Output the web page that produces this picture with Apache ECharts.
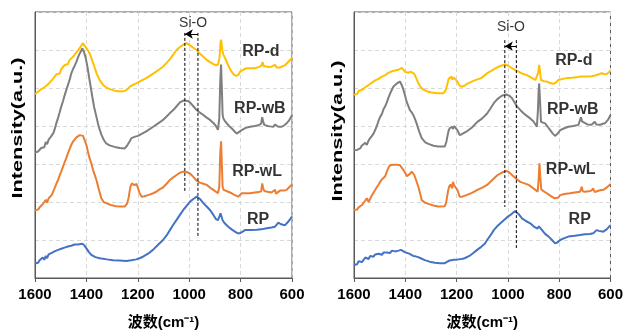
<!DOCTYPE html>
<html>
<head>
<meta charset="utf-8">
<script src="https://cdn.jsdelivr.net/npm/echarts@6/dist/echarts.min.js"></script>
<style>
  html, body { margin: 0; padding: 0; background: #fff; }
  #chart { width: 626px; height: 336px; }
</style>
</head>
<body>
<div id="chart"></div>
<script>
// wavenumber ticks (cm-1), axis runs 1600 -> 600
const xTicks = [1600, 1400, 1200, 1000, 800, 600]
const sampleNames = ['RP-d', 'RP-wB', 'RP-wL', 'RP']
const sampleColors = ['#FFC000', '#7F7F7F', '#ED7D31', '#4472C4']

// left panel spectra [wavenumber, offset intensity]
const leftRPd = [[1600,4.84],[1592,4.88],[1586,4.86],[1580,4.95],[1575,4.92],[1568,5.00],[1562,4.97],[1556,5.06],[1550,5.02],[1543,5.14],[1537,5.10],[1530,5.24],[1524,5.20],[1517,5.36],[1510,5.40],[1504,5.38],[1498,5.50],[1491,5.48],[1485,5.60],[1478,5.65],[1472,5.63],[1465,5.74],[1459,5.72],[1452,5.82],[1446,5.86],[1439,5.94],[1433,5.98],[1426,6.05],[1420,6.10],[1414,6.18],[1408,6.16],[1400,6.05],[1393,5.98],[1387,5.90],[1380,5.78],[1374,5.66],[1368,5.54],[1360,5.38],[1348,5.20],[1335,5.08],[1320,5.00],[1309,4.97],[1290,4.93],[1270,4.91],[1251,4.92],[1240,4.97],[1232,5.03],[1220,5.08],[1206,5.12],[1190,5.18],[1167,5.26],[1140,5.38],[1114,5.50],[1102,5.56],[1088,5.66],[1075,5.76],[1062,5.88],[1049,6.00],[1036,6.08],[1023,6.14],[1010,6.18],[997,6.12],[984,6.06],[971,6.00],[958,5.90],[945,5.82],[932,5.74],[919,5.68],[906,5.63],[896,5.60],[888,5.62],[882,5.80],[878,6.20],[876,6.27],[873,6.10],[870,5.95],[867,5.88],[860,5.78],[854,5.69],[845,5.55],[835,5.43],[826,5.35],[818,5.32],[809,5.34],[802,5.43],[790,5.48],[777,5.52],[763,5.52],[745,5.52],[730,5.55],[720,5.58],[714,5.68],[710,5.58],[705,5.56],[690,5.55],[680,5.56],[673,5.56],[666,5.61],[660,5.54],[647,5.54],[640,5.58],[627,5.60],[620,5.62],[614,5.69],[607,5.74],[600,5.79]]
const leftRPwB = [[1600,3.30],[1594,3.34],[1588,3.33],[1582,3.38],[1576,3.42],[1570,3.46],[1564,3.44],[1558,3.58],[1553,3.52],[1547,3.64],[1540,3.70],[1534,3.74],[1528,3.82],[1522,3.95],[1517,4.07],[1510,4.22],[1504,4.36],[1498,4.51],[1491,4.65],[1485,4.80],[1478,4.95],[1472,5.08],[1465,5.22],[1459,5.38],[1452,5.50],[1446,5.58],[1439,5.69],[1433,5.80],[1426,5.91],[1420,5.98],[1416,6.04],[1410,5.96],[1403,5.80],[1396,5.56],[1390,5.30],[1383,5.02],[1377,4.77],[1370,4.50],[1361,4.24],[1352,3.98],[1342,3.78],[1332,3.63],[1323,3.54],[1310,3.49],[1290,3.45],[1270,3.42],[1251,3.41],[1242,3.48],[1232,3.59],[1225,3.68],[1219,3.72],[1210,3.72],[1199,3.74],[1185,3.79],[1167,3.86],[1140,3.98],[1114,4.10],[1102,4.16],[1088,4.25],[1075,4.34],[1062,4.42],[1049,4.52],[1036,4.62],[1023,4.67],[1016,4.68],[1005,4.66],[997,4.62],[984,4.52],[971,4.42],[958,4.35],[945,4.29],[932,4.22],[919,4.16],[906,4.08],[896,4.00],[888,3.90],[883,4.20],[879,5.20],[876,5.62],[873,5.00],[870,4.30],[867,4.20],[860,4.12],[854,4.07],[845,4.00],[835,3.94],[825,3.87],[815,3.80],[808,3.82],[796,3.89],[780,3.95],[763,3.98],[745,4.00],[730,4.02],[720,4.06],[716,4.23],[712,4.12],[708,4.03],[695,4.00],[685,3.99],[673,3.98],[666,4.04],[660,4.05],[653,3.98],[640,3.98],[630,4.02],[621,4.07],[612,4.14],[600,4.28]]
const leftRPwL = [[1600,1.78],[1594,1.82],[1588,1.80],[1582,1.86],[1576,1.88],[1570,1.94],[1564,1.90],[1558,2.06],[1553,1.98],[1547,2.10],[1541,2.05],[1535,2.18],[1530,2.23],[1524,2.36],[1517,2.48],[1510,2.58],[1504,2.70],[1498,2.80],[1491,2.93],[1485,3.04],[1478,3.16],[1472,3.28],[1465,3.40],[1459,3.50],[1452,3.59],[1446,3.64],[1439,3.70],[1433,3.72],[1426,3.76],[1420,3.81],[1413,3.74],[1407,3.63],[1400,3.50],[1394,3.32],[1388,3.16],[1381,3.02],[1374,2.84],[1368,2.72],[1361,2.58],[1352,2.34],[1342,2.10],[1333,2.00],[1323,1.97],[1305,1.92],[1284,1.89],[1265,1.88],[1251,1.88],[1242,1.96],[1236,2.10],[1229,2.40],[1223,2.49],[1219,2.44],[1216,2.53],[1213,2.44],[1210,2.40],[1205,2.48],[1202,2.45],[1197,2.32],[1193,2.23],[1185,2.14],[1175,2.15],[1160,2.18],[1140,2.23],[1128,2.27],[1114,2.34],[1102,2.38],[1088,2.48],[1075,2.58],[1062,2.65],[1049,2.71],[1036,2.77],[1023,2.80],[1010,2.79],[997,2.75],[984,2.66],[971,2.56],[958,2.51],[945,2.48],[932,2.45],[919,2.38],[906,2.32],[896,2.27],[888,2.23],[883,2.40],[879,3.30],[876,3.60],[873,3.00],[870,2.40],[866,2.32],[861,2.32],[848,2.27],[835,2.23],[822,2.18],[809,2.14],[802,2.18],[796,2.23],[780,2.23],[763,2.23],[745,2.25],[730,2.26],[720,2.28],[716,2.49],[712,2.36],[708,2.29],[695,2.27],[680,2.25],[673,2.25],[666,2.32],[662,2.22],[655,2.24],[647,2.30],[640,2.26],[630,2.30],[621,2.32],[612,2.38],[600,2.46]]
const leftRP = [[1600,0.38],[1594,0.42],[1588,0.40],[1582,0.47],[1576,0.45],[1570,0.54],[1564,0.48],[1558,0.58],[1553,0.52],[1547,0.62],[1541,0.58],[1535,0.66],[1530,0.63],[1524,0.70],[1517,0.68],[1510,0.74],[1504,0.71],[1498,0.77],[1491,0.74],[1485,0.80],[1478,0.78],[1472,0.83],[1465,0.80],[1459,0.85],[1452,0.84],[1446,0.88],[1439,0.86],[1433,0.88],[1426,0.87],[1416,0.90],[1408,0.86],[1400,0.78],[1390,0.68],[1381,0.61],[1365,0.55],[1348,0.52],[1320,0.49],[1296,0.47],[1270,0.46],[1245,0.45],[1225,0.47],[1206,0.49],[1193,0.52],[1180,0.56],[1160,0.64],[1141,0.74],[1120,0.88],[1102,1.00],[1088,1.12],[1075,1.26],[1062,1.40],[1049,1.53],[1036,1.66],[1023,1.79],[1010,1.90],[997,2.01],[984,2.08],[971,2.14],[965,2.13],[958,2.08],[945,1.97],[932,1.88],[919,1.79],[906,1.66],[896,1.55],[888,1.52],[883,1.57],[878,1.70],[874,1.66],[870,1.52],[862,1.44],[848,1.35],[835,1.28],[822,1.22],[812,1.18],[802,1.18],[792,1.22],[783,1.26],[760,1.26],[737,1.27],[720,1.28],[698,1.31],[680,1.33],[666,1.35],[660,1.40],[653,1.46],[645,1.42],[635,1.40],[627,1.39],[615,1.48],[608,1.54],[600,1.62]]

// right panel spectra
const rightRPd = [[1600,4.82],[1594,4.86],[1588,4.84],[1582,4.92],[1576,4.88],[1569,4.95],[1563,4.92],[1556,5.02],[1550,4.98],[1543,5.08],[1537,5.05],[1530,5.14],[1524,5.10],[1517,5.20],[1510,5.16],[1504,5.24],[1498,5.22],[1491,5.30],[1485,5.26],[1478,5.34],[1472,5.32],[1466,5.40],[1459,5.37],[1452,5.44],[1446,5.40],[1440,5.46],[1433,5.44],[1426,5.48],[1420,5.50],[1414,5.53],[1407,5.48],[1400,5.42],[1395,5.38],[1388,5.40],[1380,5.43],[1373,5.44],[1366,5.38],[1360,5.30],[1350,5.14],[1340,5.02],[1330,4.96],[1315,4.91],[1298,4.88],[1275,4.86],[1252,4.86],[1244,4.92],[1238,5.05],[1231,5.24],[1226,5.28],[1220,5.30],[1216,5.22],[1212,5.28],[1205,5.26],[1198,5.18],[1190,5.08],[1181,5.03],[1170,5.06],[1156,5.12],[1130,5.20],[1104,5.26],[1081,5.39],[1060,5.47],[1048,5.52],[1030,5.58],[1010,5.62],[997,5.58],[984,5.52],[971,5.47],[958,5.43],[945,5.38],[926,5.34],[910,5.28],[893,5.21],[887,5.23],[882,5.40],[878,5.61],[875,5.45],[871,5.21],[860,5.18],[848,5.17],[835,5.13],[822,5.11],[812,5.15],[803,5.21],[785,5.24],[771,5.26],[750,5.27],[732,5.28],[718,5.30],[712,5.34],[706,5.30],[693,5.30],[675,5.31],[660,5.33],[654,5.32],[645,5.36],[635,5.39],[625,5.37],[616,5.36],[608,5.40],[600,5.46]]
const rightRPwB = [[1600,3.36],[1594,3.38],[1588,3.37],[1582,3.42],[1576,3.41],[1570,3.48],[1563,3.44],[1556,3.56],[1550,3.50],[1543,3.62],[1537,3.68],[1530,3.74],[1524,3.80],[1517,3.90],[1510,4.02],[1504,4.14],[1498,4.24],[1491,4.32],[1485,4.44],[1479,4.51],[1472,4.62],[1466,4.74],[1459,4.86],[1452,4.96],[1446,5.04],[1440,5.08],[1433,5.12],[1426,5.15],[1421,5.17],[1414,5.08],[1407,4.95],[1400,4.78],[1395,4.64],[1388,4.52],[1382,4.42],[1375,4.36],[1369,4.29],[1362,4.18],[1356,4.07],[1346,3.86],[1336,3.68],[1322,3.57],[1310,3.53],[1290,3.48],[1272,3.46],[1246,3.46],[1240,3.58],[1236,3.72],[1231,3.88],[1227,3.94],[1222,3.96],[1218,3.98],[1214,3.92],[1210,4.00],[1207,3.98],[1197,3.89],[1188,3.76],[1178,3.79],[1162,3.85],[1140,3.96],[1119,4.11],[1100,4.20],[1081,4.33],[1068,4.46],[1055,4.60],[1042,4.70],[1029,4.77],[1018,4.81],[1006,4.83],[995,4.80],[984,4.73],[974,4.62],[964,4.51],[950,4.41],[938,4.33],[925,4.26],[913,4.20],[900,4.12],[893,4.07],[887,3.98],[883,4.40],[880,4.95],[878,5.12],[875,4.70],[871,4.11],[863,4.09],[855,4.07],[845,3.98],[835,3.89],[825,3.80],[816,3.74],[806,3.80],[796,3.89],[780,3.94],[764,3.98],[745,4.00],[725,4.03],[719,4.06],[715,4.23],[711,4.12],[709,4.07],[690,4.04],[674,4.03],[667,4.08],[661,4.11],[655,4.04],[641,4.03],[630,4.06],[622,4.07],[610,4.16],[600,4.29]]
const rightRPwL = [[1600,1.79],[1594,1.82],[1588,1.80],[1582,1.86],[1576,1.88],[1569,1.92],[1563,1.90],[1556,2.04],[1550,2.10],[1543,2.00],[1537,2.02],[1530,2.18],[1524,2.22],[1517,2.32],[1510,2.40],[1504,2.46],[1498,2.53],[1491,2.60],[1485,2.62],[1479,2.67],[1472,2.80],[1466,2.90],[1459,2.97],[1452,3.00],[1446,2.98],[1440,3.02],[1433,2.98],[1426,3.02],[1421,2.97],[1414,2.92],[1407,2.84],[1400,2.76],[1394,2.68],[1388,2.67],[1382,2.74],[1375,2.80],[1370,2.76],[1365,2.71],[1357,2.56],[1349,2.40],[1342,2.22],[1336,2.05],[1323,1.98],[1310,1.95],[1290,1.91],[1272,1.88],[1246,1.89],[1241,1.98],[1237,2.14],[1233,2.30],[1229,2.40],[1224,2.46],[1220,2.45],[1217,2.36],[1214,2.53],[1210,2.44],[1207,2.40],[1197,2.32],[1188,2.14],[1178,2.14],[1162,2.18],[1140,2.24],[1119,2.32],[1100,2.38],[1081,2.45],[1068,2.53],[1055,2.62],[1042,2.70],[1029,2.75],[1018,2.79],[1006,2.82],[995,2.78],[984,2.71],[977,2.67],[965,2.60],[952,2.53],[935,2.49],[919,2.45],[905,2.38],[893,2.32],[884,2.27],[880,2.60],[877,3.02],[874,2.70],[870,2.33],[860,2.28],[848,2.23],[838,2.18],[829,2.14],[820,2.10],[813,2.05],[805,2.11],[796,2.18],[780,2.21],[758,2.23],[740,2.25],[719,2.27],[712,2.40],[708,2.28],[700,2.27],[685,2.28],[674,2.30],[668,2.36],[661,2.26],[650,2.29],[640,2.31],[628,2.32],[615,2.38],[608,2.42],[600,2.47]]
const rightRP = [[1600,0.34],[1594,0.38],[1588,0.36],[1582,0.44],[1576,0.47],[1569,0.42],[1563,0.42],[1556,0.54],[1550,0.56],[1543,0.50],[1537,0.58],[1530,0.54],[1524,0.56],[1517,0.62],[1510,0.58],[1504,0.64],[1498,0.65],[1491,0.61],[1485,0.67],[1479,0.64],[1472,0.67],[1466,0.70],[1459,0.66],[1452,0.72],[1446,0.72],[1440,0.70],[1433,0.74],[1426,0.72],[1417,0.74],[1410,0.72],[1402,0.68],[1395,0.67],[1385,0.64],[1378,0.62],[1369,0.58],[1360,0.57],[1350,0.55],[1340,0.52],[1324,0.47],[1305,0.43],[1285,0.40],[1265,0.39],[1246,0.39],[1236,0.43],[1227,0.46],[1210,0.48],[1194,0.49],[1180,0.50],[1169,0.52],[1150,0.58],[1136,0.65],[1120,0.74],[1104,0.82],[1090,0.90],[1081,1.00],[1068,1.12],[1055,1.26],[1042,1.36],[1029,1.44],[1016,1.52],[1003,1.60],[990,1.66],[980,1.72],[971,1.76],[965,1.74],[958,1.68],[945,1.57],[930,1.50],[913,1.44],[900,1.36],[893,1.31],[885,1.30],[879,1.36],[876,1.40],[873,1.34],[867,1.26],[855,1.16],[841,1.09],[828,1.00],[816,0.91],[806,0.94],[796,1.00],[780,1.05],[764,1.09],[740,1.11],[719,1.13],[700,1.15],[680,1.16],[667,1.18],[654,1.26],[645,1.24],[638,1.21],[628,1.22],[615,1.28],[608,1.33],[600,1.39]]

// sample label anchors, Si-O guide lines [wavenumber, yTop, yBottom], arrow [xFrom, xTo, y]
const leftLabelPos = [[721,5.95],[725,4.47],[736,2.79],[732,1.53]]
const rightLabelPos = [[743,5.71],[747,4.42],[755,2.84],[720,1.53]]
const leftGuides = [[1017,6.45,2.24],[966,6.45,1.05]]
const rightGuides = [[1012,6.26,1.87],[967,6.26,0.79]]
const leftArrow = [966,1017,6.42]
const rightArrow = [967,1012,6.1]
const leftSiO = [985,6.71]
const rightSiO = [988,6.6]

const FONT = "'Liberation Sans', Arial, 'Noto Sans CJK SC', sans-serif"
const AXIS_COLOR = '#595959'

const chart = echarts.init(document.getElementById('chart'), null, { renderer: 'canvas' })

function xAxisFor(gridIndex) {
  return {
    type: 'value', gridIndex, min: 600, max: 1600, interval: 200, inverse: true,
    name: '波数(cm⁻¹)', nameLocation: 'middle', nameGap: 37,
    nameTextStyle: { fontFamily: FONT, fontWeight: 'bold', fontSize: 15, color: '#000' },
    axisLine: { show: true, lineStyle: { color: AXIS_COLOR, width: 1 } },
    axisTick: { show: true, length: 4, lineStyle: { color: AXIS_COLOR } },
    axisLabel: {
      fontFamily: FONT, fontWeight: 'bold', fontSize: 15, color: '#000', margin: 9,
      formatter: v => String(xTicks.find(t => t === v) ?? v)
    },
    splitLine: { show: true, lineStyle: { color: '#D9D9D9', type: [4, 3], width: 1 } }
  }
}

function yAxisFor(gridIndex) {
  return {
    type: 'value', gridIndex, min: 0, max: 7, interval: 1,
    axisLine: { show: true, lineStyle: { color: AXIS_COLOR, width: 1 } },
    axisTick: { show: false },
    axisLabel: { show: false },
    splitLine: { show: true, lineStyle: { color: '#D9D9D9', type: [4, 3], width: 1 } }
  }
}

// y title is drawn stretched along its length, as in the source figure
function yTitle(x, y) {
  return {
    type: 'text', x, y, rotation: Math.PI / 2, scaleX: 1.55, scaleY: 1,
    style: {
      text: 'Intensity(a.u.)', fontFamily: FONT, fontWeight: 'bold', fontSize: 14,
      fill: '#000', align: 'center', verticalAlign: 'middle'
    }
  }
}

function panelSeries(idx, spectra, labelPos, guides, arrow, siO) {
  const out = []
  spectra.forEach((d, i) => {
    out.push({
      type: 'line', xAxisIndex: idx, yAxisIndex: idx, data: d,
      showSymbol: false, symbol: 'none', smooth: false,
      lineStyle: { color: sampleColors[i], width: 2 }, z: 3
    })
  })
  guides.forEach(g => {
    out.push({
      type: 'line', xAxisIndex: idx, yAxisIndex: idx,
      data: [[g[0], g[1]], [g[0], g[2]]], symbol: 'none',
      lineStyle: { color: '#000', width: 1, type: [3, 2] }, z: 4
    })
  })
  out.push({
    type: 'line', xAxisIndex: idx, yAxisIndex: idx, data: [], symbol: 'none',
    markLine: {
      silent: true, symbol: ['none', 'arrow'], symbolSize: [7, 8],
      label: { show: false },
      lineStyle: { color: '#000', width: 1, type: 'solid' },
      data: [[{ coord: [arrow[0], arrow[2]] }, { coord: [arrow[1], arrow[2]] }]]
    }
  })
  out.push({
    type: 'scatter', xAxisIndex: idx, yAxisIndex: idx, symbolSize: 0, z: 5,
    data: labelPos.map((p, i) => ({ value: p, name: sampleNames[i] })),
    label: {
      show: true, position: 'inside', formatter: p => p.name,
      fontFamily: FONT, fontWeight: 'bold', fontSize: 16, color: '#000'
    }
  })
  out.push({
    type: 'scatter', xAxisIndex: idx, yAxisIndex: idx, symbolSize: 0, z: 5,
    data: [{ value: siO, name: 'Si-O' }],
    label: {
      show: true, position: 'inside', formatter: p => p.name,
      fontFamily: FONT, fontSize: 14, color: '#000'
    }
  })
  return out
}

const gridBox = { show: true, borderColor: AXIS_COLOR, borderWidth: 1, backgroundColor: 'transparent' }

const option = {
  animation: false,
  backgroundColor: '#fff',
  grid: [
    Object.assign({ left: 35, top: 12, width: 257, height: 266 }, gridBox),
    Object.assign({ left: 354, top: 12, width: 258, height: 266 }, gridBox)
  ],
  xAxis: [xAxisFor(0), xAxisFor(1)],
  yAxis: [yAxisFor(0), yAxisFor(1)],
  graphic: [yTitle(18, 128), yTitle(338, 131)],
  series: [
    ...panelSeries(0, [leftRPd, leftRPwB, leftRPwL, leftRP], leftLabelPos, leftGuides, leftArrow, leftSiO),
    ...panelSeries(1, [rightRPd, rightRPwB, rightRPwL, rightRP], rightLabelPos, rightGuides, rightArrow, rightSiO)
  ]
}

chart.setOption(option)
</script>
</body>
</html>
